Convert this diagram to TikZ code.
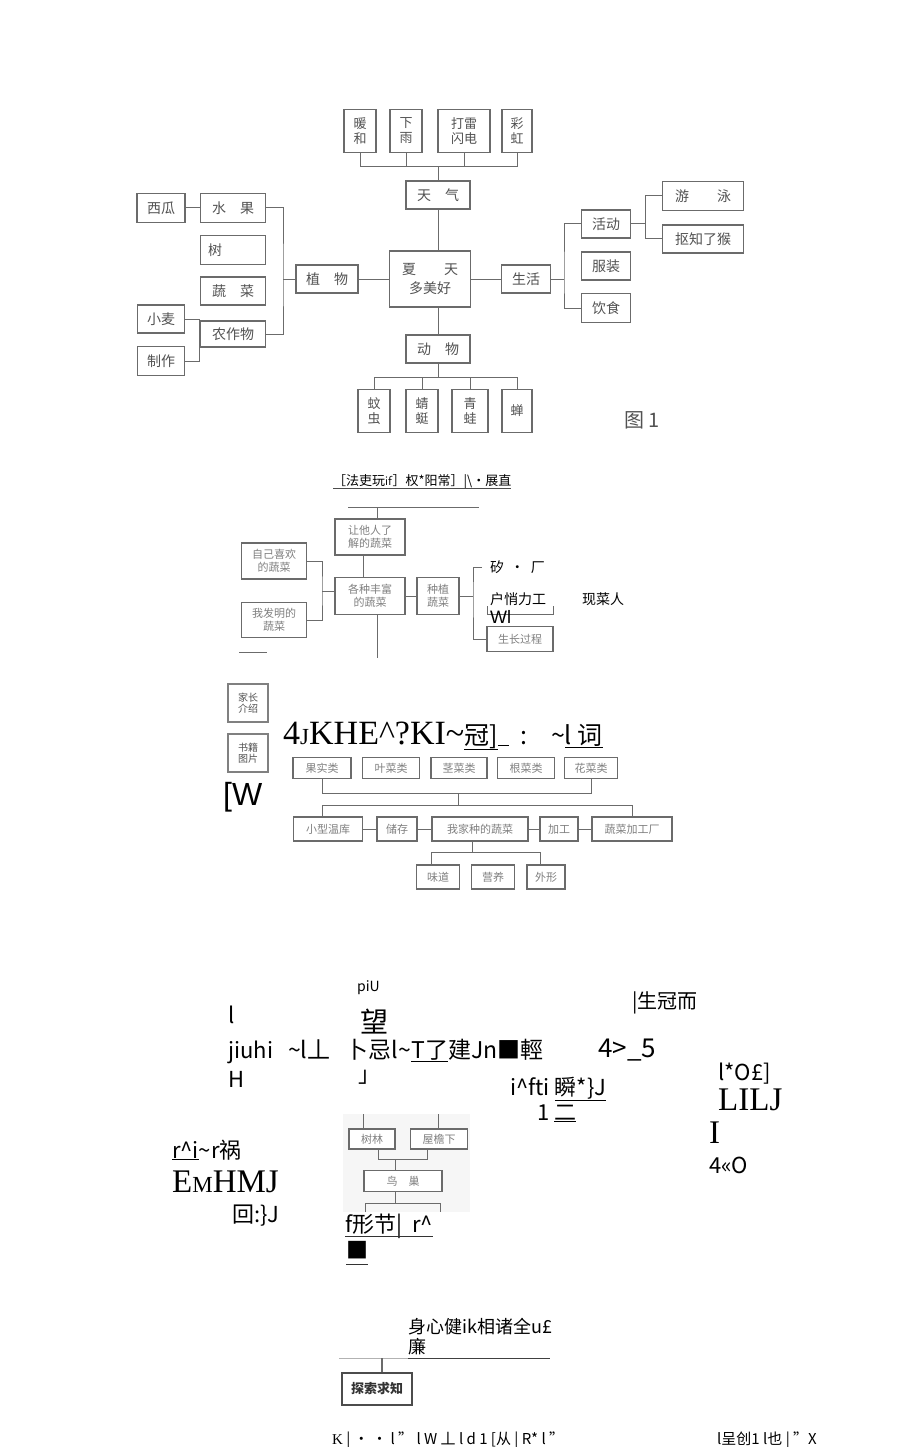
\documentclass[tikz,border=0pt]{standalone}
\usepackage{fontspec}
\setmainfont{Noto Sans CJK SC}
\newfontfamily\serifjunk{Liberation Serif}
\newfontfamily\sansjunk{Liberation Sans}
\usepackage{tikz}
\usetikzlibrary{positioning, calc}
\definecolor{boxgray}{gray}{0.42}
\definecolor{txtgray}{gray}{0.32}
\newcommand{\fs}[1]{\fontsize{#1}{#1}\selectfont}
\tikzset{%
  box/.style={draw=boxgray, line width=1.1pt, fill=white, text=txtgray, inner sep=1pt, font=\fs{14}},
  vbox/.style={box, align=center, font=\fontsize{13}{15}\selectfont},
  link/.style={draw=boxgray, line width=1pt},
  junk/.style={anchor=base west, inner sep=0pt, font=\fs{22}}
}

\begin{document}
\begin{tikzpicture}[x=1pt, y=-1pt]
\useasboundingbox (0,0) rectangle (920,1447);

% figure 1
\node[vbox, minimum width=32, minimum height=43] (nh) at (360,131) {暖\\和};
\node[vbox, minimum width=32, minimum height=43] (xy) at (406,131) {下\\雨};
\node[vbox, minimum width=52, minimum height=43] (dl) at (464,131) {打雷\\闪电};
\node[vbox, minimum width=30, minimum height=43] (ch) at (517,131) {彩\\虹};
\node[box, minimum width=64, minimum height=28] (tq) at (438,195) {天\quad 气};
\node[box, minimum width=81, minimum height=56, align=center] (xt) at (430,279) {\makebox[56pt]{夏\hfill 天}\\[5pt]多美好};
\node[box, minimum width=62, minimum height=28] (zw) at (327,279) {植\quad 物};
\node[box, minimum width=65, minimum height=29] (sg) at (233,208) {水\quad 果};
\node[box, minimum width=48, minimum height=29] (xg) at (161,208) {西瓜};
\node[box, minimum width=65, minimum height=29] (sm) at (233,250) {树\hspace*{36pt}};
\node[box, minimum width=65, minimum height=28] (sc) at (233,291) {蔬\quad 菜};
\node[box, minimum width=65, minimum height=26] (nz) at (233,334) {农作物};
\node[box, minimum width=47, minimum height=28] (xm) at (161,319) {小麦};
\node[box, minimum width=47, minimum height=29] (zz) at (161,361) {制作};
\node[box, minimum width=49, minimum height=28] (sh) at (526,279) {生活};
\node[box, minimum width=49, minimum height=28] (hd) at (606,224) {活动};
\node[box, minimum width=49, minimum height=28] (fz) at (606,266) {服装};
\node[box, minimum width=49, minimum height=29] (ys) at (606,308) {饮食};
\node[box, minimum width=81, minimum height=29] (yy) at (703,196) {游\qquad 泳};
\node[box, minimum width=81, minimum height=28] (kz) at (703,239) {抠知了猴};
\node[box, minimum width=64, minimum height=28] (dw) at (438,349) {动\quad 物};
\node[vbox, minimum width=32, minimum height=43] (wc) at (374,411) {蚊\\虫};
\node[vbox, minimum width=32, minimum height=43] (qt) at (422,411) {蜻\\蜓};
\node[vbox, minimum width=36, minimum height=43] (qw) at (470,411) {青\\蛙};
\node[vbox, minimum width=30, minimum height=43] (cn) at (517,411) {蝉};
\node[text=txtgray, font=\fs{20}] (tu1) at (642,420) {图 1};

\coordinate (tb) at (438,167);
\draw[link] (nh.south) |- (ch.south |- tb) -- (ch.south);
\draw[link] (xy.south) -- (xy.south |- tb);
\draw[link] (dl.south) -- (dl.south |- tb);
\draw[link] (tb) -- (tq.north);
\draw[link] (tq.south) -- (tq.south |- xt.north);
\draw[link] (dw.north) -- (dw.north |- xt.south);
\coordinate (db) at (438,377);
\draw[link] (dw.south) -- (db);
\draw[link] (wc.north) |- (cn.north |- db) -- (cn.north);
\draw[link] (qt.north) -- (qt.north |- db);
\draw[link] (qw.north) -- (qw.north |- db);
\draw[link] (zw.east) -- (zw.east -| xt.west);
\coordinate (pb) at (283,279);
\draw[link] (zw.west) -- (pb);
\draw[link] (sg.east) -| (pb) |- (nz.east);
\draw[link] (xg.east) -- (sg.west);
\draw[link] (xm.east) -- (xm.east -| nz.west) |- (zz.east);
\draw[link] (xt.east) -- (xt.east -| sh.west);
\coordinate (lb) at (564,279);
\draw[link] (sh.east) -- (lb);
\draw[link] (hd.west) -| (lb) |- (ys.west);
\coordinate (ab) at (645,224);
\draw[link] (hd.east) -- (ab);
\draw[link] (yy.west) -| (ab) |- (kz.west);

% figure 2
\node[junk, font=\fs{13}] (hd2) at (333,485) {［法吏玩\textsf{if}］权*阳常］|\textbackslash•展直};
\draw[black!70] ([yshift=-3pt]hd2.base west) -- ([yshift=-3pt]hd2.base east);
\node[vbox, minimum width=70, minimum height=36, font=\fontsize{11}{13}\selectfont, text=gray] (lr) at (370,537) {让他人了\\解的蔬菜};
\node[vbox, minimum width=70, minimum height=37, font=\fontsize{11}{13}\selectfont, text=gray] (gz) at (370,596) {各种丰富\\的蔬菜};
\node[vbox, minimum width=42, minimum height=37, font=\fontsize{11}{13}\selectfont, text=gray] (zp) at (438,596) {种植\\蔬菜};
\node[vbox, minimum width=65, minimum height=36, font=\fontsize{11}{13}\selectfont, text=gray] (zj) at (274,561) {自己喜欢\\的蔬菜};
\node[vbox, minimum width=65, minimum height=35, font=\fontsize{11}{13}\selectfont, text=gray] (wf) at (274,620) {我发明的\\蔬菜};
\node[box, minimum width=66, minimum height=25, font=\fs{11}, text=gray] (sz) at (520,639) {生长过程};

\coordinate (h2a) at (348,507);
\coordinate (h2b) at (479,507);
\coordinate (t2) at (377,507);
\draw[link] (h2a) -- (h2b);
\draw[link] (t2) -- (t2 |- lr.north);
\draw[link] ([xshift=-7pt]lr.south) -- ([xshift=-7pt]gz.north);
\coordinate (b2) at (377,658);
\draw[link] (b2 |- gz.south) -- (b2);
\coordinate (lb2) at (322,591);
\draw[link] (zj.east) -| (lb2) |- (wf.east);
\draw[link] (lb2) -- (lb2 -| gz.west);
\draw[link] (gz.east) -- (zp.west);
\coordinate (rb2) at (473,596);
\coordinate (rt2) at (482,567);
\draw[link] (zp.east) -- (rb2);
\draw[link] (rt2) -| (rb2) |- (sz.west);
\coordinate (pp1) at (487,606);
\coordinate (pp2) at (553,606);
\draw[link] (pp1) -- ++(0,8) -| (pp2);
\coordinate (st1) at (239,652);
\coordinate (st2) at (267,652);
\draw[link] (st1) -- (st2);

\node[junk, font=\fs{14}] (o1) at (490,572) {矽 \ • \ 厂};
\node[junk, font=\fs{14}] (o2) at (490,604) {户悄力工};
\node[junk, font=\fs{14}] (o3) at (582,604) {现菜人};
\node[junk, font=\sansjunk\fs{18}] (o4) at (490,623) {Wl};

% figure 3
\node[vbox, minimum width=40, minimum height=38, font=\fontsize{10}{11}\selectfont, line width=1.8pt, draw=gray] (jz) at (248,703) {家长\\介绍};
\node[vbox, minimum width=40, minimum height=38, font=\fontsize{10}{11}\selectfont, line width=1.8pt, draw=gray] (sj) at (248,753) {书籍\\图片};
\node[junk, font=\serifjunk\fs{34}] (o5) at (283,744) {4{\fs{23}J}KHE\textasciicircum?KI\textasciitilde{\rmfamily\fs{25}\underline{冠]}\underline{\ \ }\ \ :\hspace{24pt}\textasciitilde\underline{l\ 词}}};
\node[junk, font=\sansjunk\fs{32}] (o6) at (223,805) {[W};

\node[box, minimum width=58, minimum height=21, font=\fs{11}, text=gray] (gs) at (322,768) {果实类};
\node[box, minimum width=57, minimum height=21, font=\fs{11}, text=gray] (yc) at (391,768) {叶菜类};
\node[box, minimum width=56, minimum height=21, font=\fs{11}, text=gray] (jc) at (459,768) {茎菜类};
\node[box, minimum width=57, minimum height=21, font=\fs{11}, text=gray] (gc) at (526,768) {根菜类};
\node[box, minimum width=53, minimum height=21, font=\fs{11}, text=gray] (hc) at (591,768) {花菜类};
\coordinate (r1) at (458,793);
\coordinate (r2) at (458,805);
\draw[link] (gs.south) |- (hc.south |- r1) -- (hc.south);
\draw[link] (r1) -- (r2);

\node[box, minimum width=69, minimum height=24, font=\fs{11}, text=gray] (xw) at (328,829) {小型温库};
\node[box, minimum width=40, minimum height=24, font=\fs{11}, text=gray] (cc) at (397,829) {储存};
\node[box, minimum width=96, minimum height=24, font=\fs{11}, text=gray] (wj) at (480,829) {我家种的蔬菜};
\node[box, minimum width=38, minimum height=24, font=\fs{11}, text=gray] (jg) at (559,829) {加工};
\node[box, minimum width=80, minimum height=24, font=\fs{11}, text=gray] (jc2) at (632,829) {蔬菜加工厂};
\coordinate (r3) at (322,805);
\draw[link] (r3 |- xw.north) -- (r3) -| (jc2.north);
\draw[link] (xw.east) -- (cc.west);
\draw[link] (cc.east) -- (wj.west);
\draw[link] (wj.east) -- (jg.west);
\draw[link] (jg.east) -- (jc2.west);

\node[box, minimum width=43, minimum height=24, font=\fs{11}, text=gray] (wd) at (438,877) {味道};
\node[box, minimum width=43, minimum height=24, font=\fs{11}, text=gray] (yy2) at (493,877) {营养};
\node[box, minimum width=38, minimum height=24, font=\fs{11}, text=gray] (wx) at (546,877) {外形};
\coordinate (r4) at (472,852);
\coordinate (r4a) at (431,852);
\coordinate (r4b) at (540,852);
\draw[link] (r4 |- wj.south) -- (r4);
\draw[link] (r4a |- wd.north) -- (r4a) -- (r4b) -- (r4b |- wx.north);

% figure 4
\node[junk, font=\fs{14}] (o7) at (357,991) {piU};
\node[junk, font=\fs{20}] (o8) at (632,1008) {|生冠而};
\node[junk] (o9) at (228,1023) {l};
\node[junk, font=\fs{28}] (o10) at (360,1032) {望};
\node[junk] (o11) at (228,1058) {jiuhi};
\node[junk, font=\fs{23}] (o12) at (288,1058) {\textasciitilde l丄\ \ \ 卜忌l\textasciitilde\underline{T了}建Jn■輕};
\node[junk, font=\fs{26}] (o13) at (598,1057) {4>\_5};
\node[junk] (o14) at (228,1087) {H};
\node[junk] (o15) at (358,1082) {」};
\node[junk] (o16) at (718,1080) {l*O£]};
\node[junk] (o17) at (510,1095) {i\textasciicircum fti \underline{瞬*\}J}};
\node[junk, font=\serifjunk\fs{33}] (o18) at (718,1110) {LILJ};
\node[junk] (o19) at (537,1120) {1 \underline{二}};
\node[junk, font=\serifjunk\fs{33}] (o20) at (709,1143) {I};
\node[junk] (o21) at (172,1158) {\underline{r\textasciicircum i}\textasciitilde r祸};
\node[junk] (o22) at (709,1173) {4«O};
\node[junk, font=\serifjunk\fs{33}] (o23) at (172,1192) {E{\fs{23}M}HMJ};
\node[junk] (o24) at (232,1222) {回:\}J};

\fill[gray!7] (343,1114) rectangle (470,1212);
\node[box, minimum width=46, minimum height=20, font=\fs{11}, text=gray] (sl) at (372,1139) {树林};
\node[box, minimum width=57, minimum height=20, font=\fs{11}, text=gray] (wy) at (439,1139) {屋檐下};
\node[box, minimum width=78, minimum height=21, font=\fs{11}, text=gray] (nc) at (403,1181) {鸟\quad 巢};
\coordinate (n0a) at (363,1114);
\coordinate (n0b) at (438,1114);
\draw[link] (n0a) -- (n0a |- sl.north);
\draw[link] (n0b) -- (n0b |- wy.north);
\coordinate (n1) at (395,1159);
\coordinate (n1a) at (378,1159);
\coordinate (n1b) at (427,1159);
\draw[link] (n1a |- sl.south) -- (n1a) -- (n1b) -- (n1b |- wy.south);
\draw[link] (n1) -- (n1 |- nc.north);
\coordinate (n2) at (395,1203);
\coordinate (n2a) at (365,1212);
\coordinate (n2b) at (440,1212);
\draw[link] (n2 |- nc.south) -- (n2);
\draw[link] (n2a) |- (n2) -| (n2b);
\node[junk] (o25) at (345,1232) {f形节|\ \ r\textasciicircum};
\draw[black!80] ([yshift=-4pt]o25.base west) -- ([yshift=-4pt]o25.base east);
\node[junk] (o26) at (346,1258) {■};
\draw[black!80] ([yshift=-6pt]o26.base west) -- ([yshift=-6pt]o26.base east);

% figure 5
\node[junk, font=\fs{18}] (o27) at (408,1333) {身心健ik相诸全u£};
\node[junk, font=\fs{18}] (o28) at (408,1353) {廉};
\coordinate (bl0) at (339,1358);
\coordinate (bl1) at (408,1358);
\coordinate (bl2) at (550,1358);
\coordinate (bl3) at (382,1358);
\draw[gray!60, line width=1pt] (bl0) -- (bl1);
\draw[black!75] (bl1) -- (bl2);
\node[box, minimum width=70, minimum height=32, line width=1.7pt, draw=black!70, text=black!80, font=\bfseries\fs{13}] (ts) at (377,1389) {探索求知};
\draw[link, line width=1.3pt] (bl3) -- (bl3 |- ts.north);

\node[junk, font=\fs{15}] (f1) at (332,1444) {\serifjunk K\rmfamily\ |\ •\ •\ l\ "\ l\ W\ 丄\ l\ d\ 1\ [从\ |\ R*\ l\ "};
\node[junk, font=\fs{15}] (f2) at (717,1444) {l呈创1\ l也\ |\ "X};

\end{tikzpicture}
\end{document}
